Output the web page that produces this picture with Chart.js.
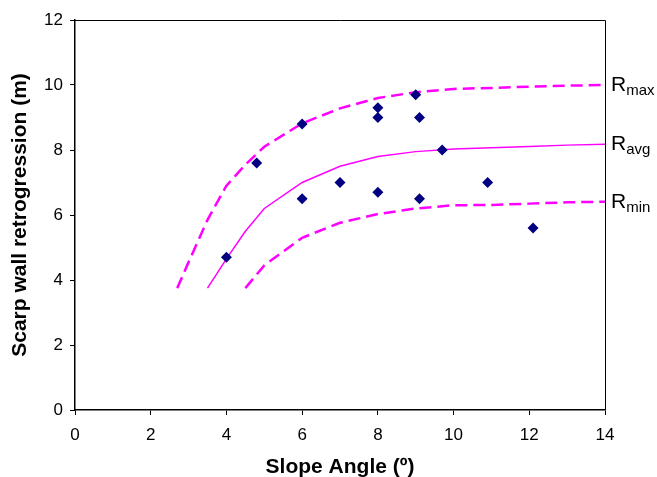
<!DOCTYPE html>
<html>
<head>
<meta charset="utf-8">
<script src="https://cdn.jsdelivr.net/npm/chart.js@4/dist/chart.umd.min.js"></script>
<style>
  html, body { margin: 0; padding: 0; background: #fff; }
  canvas { display: block; }
</style>
</head>
<body>
<canvas id="chart" width="657" height="477"></canvas>
<script>
// Observed scarp retrogression
const pointX = [4, 4.8, 6, 6, 7, 8, 8, 8, 9, 9.1, 9.1, 9.7, 10.9, 12.1];
const pointY = [4.7, 7.6, 8.8, 6.5, 7.0, 9.3, 9.0, 6.7, 9.7, 9.0, 6.5, 8.0, 7.0, 5.6];

// Envelope curves
const maxX = [2.7, 3, 3.5, 4, 4.5, 5, 6, 7, 8, 9, 10, 11, 12, 13, 14];
const maxY = [3.75, 4.55, 5.85, 6.9, 7.55, 8.1, 8.82, 9.28, 9.6, 9.78, 9.88, 9.91, 9.95, 9.98, 10.0];

const avgX = [3.5, 4, 4.5, 5, 6, 7, 8, 9, 10, 11, 12, 13, 14];
const avgY = [3.75, 4.65, 5.5, 6.2, 7.0, 7.5, 7.8, 7.95, 8.03, 8.07, 8.11, 8.15, 8.18];

const minX = [4.5, 5, 6, 7, 8, 9, 10, 11, 12, 13, 14];
const minY = [3.75, 4.45, 5.3, 5.76, 6.03, 6.2, 6.3, 6.31, 6.35, 6.39, 6.41];

const curveLabels = ["max", "avg", "min"];

const FONT = "'Liberation Sans', Arial, sans-serif";
const MAGENTA = "#ff00ff";
const NAVY = "#000080";

function toPoints(xs, ys) {
  return xs.map((x, i) => ({ x, y: ys[i] }));
}

function curve(xs, ys, dashed) {
  return {
    data: toPoints(xs, ys),
    showLine: true,
    borderColor: MAGENTA,
    borderWidth: dashed ? 2.5 : 1.5,
    borderDash: dashed ? [12, 6] : [],
    pointRadius: 0,
    tension: 0,
  };
}

// box edges on top/right + R labels at the curve ends
const extras = {
  id: "extras",
  afterDraw(chart) {
    const { ctx, chartArea, scales } = chart;
    ctx.save();
    ctx.strokeStyle = "#000";
    ctx.lineWidth = 1;
    ctx.beginPath();
    ctx.moveTo(chartArea.left, chartArea.top + 0.5);
    ctx.lineTo(chartArea.right + 0.5, chartArea.top + 0.5);
    ctx.lineTo(chartArea.right + 0.5, chartArea.bottom);
    ctx.stroke();

    const ends = [maxY[maxY.length - 1], avgY[avgY.length - 1], minY[minY.length - 1]];
    ctx.fillStyle = "#000";
    ctx.textBaseline = "alphabetic";
    ctx.textAlign = "left";
    ends.forEach((v, i) => {
      const y = scales.y.getPixelForValue(v) + 6;
      const x = chartArea.right + 6;
      ctx.font = `21px ${FONT}`;
      ctx.fillText("R", x, y);
      const w = ctx.measureText("R").width;
      ctx.font = `15px ${FONT}`;
      ctx.fillText(curveLabels[i], x + w, y + 4);
    });
    ctx.restore();
  },
};

new Chart(document.getElementById("chart"), {
  type: "scatter",
  data: {
    datasets: [
      {
        data: toPoints(pointX, pointY),
        pointStyle: "rectRot",
        pointRadius: 5.5,
        backgroundColor: NAVY,
        borderColor: NAVY,
        borderWidth: 0,
      },
      curve(maxX, maxY, true),
      curve(avgX, avgY, false),
      curve(minX, minY, true),
    ],
  },
  options: {
    responsive: false,
    animation: false,
    devicePixelRatio: 1,
    layout: { padding: { top: 20, right: 52, left: 0, bottom: 0 } },
    plugins: { legend: { display: false }, tooltip: { enabled: false } },
    scales: {
      x: {
        type: "linear",
        min: 0,
        max: 14,
        ticks: { stepSize: 2, color: "#000", font: { family: FONT, size: 17 }, padding: 10 },
        grid: { drawOnChartArea: false, tickLength: 5, color: "#000" },
        border: { color: "#000", width: 1.5 },
        title: {
          display: true,
          text: "Slope Angle (º)",
          color: "#000",
          font: { family: FONT, size: 21, weight: "bold", lineHeight: 1 },
          padding: { top: 0, bottom: -1 },
        },
        afterFit: (s) => { s.height = 67; },
      },
      y: {
        type: "linear",
        min: 0,
        max: 12,
        ticks: { stepSize: 2, color: "#000", font: { family: FONT, size: 17 }, padding: 7 },
        grid: { drawOnChartArea: false, tickLength: 5, color: "#000" },
        border: { color: "#000", width: 1.5 },
        title: {
          display: true,
          text: "Scarp wall retrogression (m)",
          color: "#000",
          font: { family: FONT, size: 21, weight: "bold", lineHeight: 1 },
          padding: { top: 9.5, bottom: 0 },
        },
        afterFit: (s) => { s.width = 75; },
      },
    },
  },
  plugins: [extras],
});
</script>
</body>
</html>
